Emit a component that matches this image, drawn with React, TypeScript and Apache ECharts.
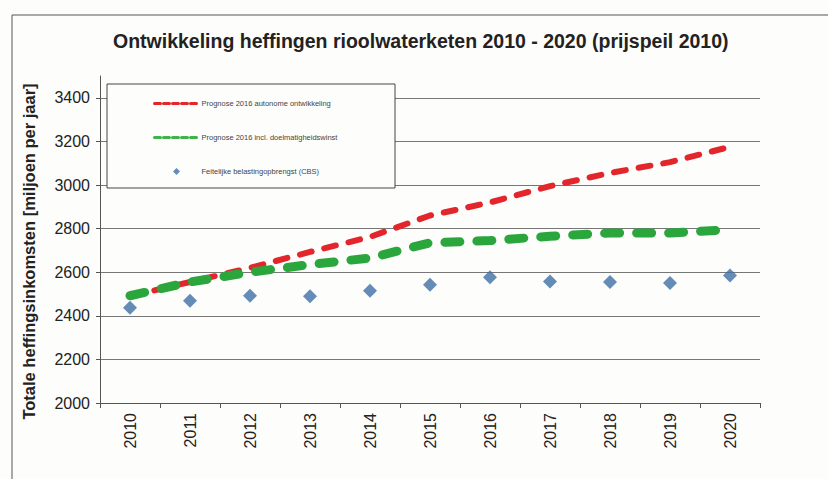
import React, { useEffect, useRef } from "react";
import * as echarts from "echarts";

const years = ["2010", "2011", "2012", "2013", "2014", "2015", "2016", "2017", "2018", "2019", "2020"];
const autonoom = [2490, 2555, 2620, 2693, 2762, 2860, 2920, 2995, 3055, 3105, 3175];
const doelmatig = [2492, 2555, 2600, 2635, 2665, 2735, 2745, 2765, 2780, 2780, 2795];
const feitelijk = [2437, 2469, 2492, 2490, 2515, 2543, 2577, 2557, 2555, 2551, 2585];

const nameRed = "Prognose 2016 autonome ontwikkeling";
const nameGreen = "Prognose 2016 incl. doelmatigheidswinst";
const nameBlue = "Feitelijke belastingopbrengst (CBS)";

const FONT = "'Liberation Sans', Arial, sans-serif";
const DIAMOND = "path://M5,0L10,5L5,10L0,5Z";

export default function App() {
  const ref = useRef<HTMLDivElement>(null);
  useEffect(() => {
    if (!ref.current) return;
    const chart = echarts.init(ref.current, undefined, { renderer: "svg" });
    chart.setOption({
      animation: false,
      backgroundColor: "#fdfdfb",
      textStyle: { fontFamily: FONT },
      title: {
        text: "Ontwikkeling heffingen rioolwaterketen 2010 - 2020 (prijspeil 2010)",
        left: 113,
        top: 31,
        padding: 0,
        textStyle: { fontFamily: FONT, fontSize: 19.5, fontWeight: "bold", color: "#222" },
      },
      graphic: [
        {
          type: "rect",
          shape: { x: 12, y: 15, width: 840, height: 490 },
          style: { fill: "none", stroke: "#555", lineWidth: 1 },
          silent: true,
          z: -1,
        },
        {
          type: "rect",
          shape: { x: 107, y: 84, width: 288, height: 104 },
          style: { fill: "#fdfdfb", stroke: "#444", lineWidth: 1 },
          silent: true,
          z: 10,
        },
      ],
      legend: {
        orient: "vertical",
        left: 153,
        top: 99.5,
        padding: 0,
        itemWidth: 44,
        itemHeight: 7,
        itemGap: 26,
        symbolKeepAspect: true,
        z: 20,
        textStyle: { fontFamily: FONT, fontSize: 7.5, color: "#444", padding: [0, 0, 0, -2] },
        data: [
          { name: nameRed, itemStyle: { opacity: 0 }, lineStyle: { width: 3, type: [6, 3], color: "#e3262b" } },
          { name: nameGreen, itemStyle: { opacity: 0 }, lineStyle: { width: 3, type: [6, 3], color: "#3fb34a" } },
          { name: nameBlue, icon: DIAMOND, itemStyle: { color: "#3f6ea6" } },
        ],
      },
      grid: { left: 100, right: 68, top: 76, bottom: 76, containLabel: false },
      xAxis: {
        type: "category",
        data: years,
        boundaryGap: true,
        axisLine: { lineStyle: { color: "#555", width: 1 } },
        axisTick: { show: true, length: 5, alignWithLabel: false, lineStyle: { color: "#555" } },
        axisLabel: { rotate: 90, margin: 10, fontSize: 16, color: "#222", fontFamily: FONT },
        splitLine: { show: false },
      },
      yAxis: {
        type: "value",
        min: 2000,
        max: 3500,
        interval: 200,
        name: "Totale heffingsinkomsten [miljoen per jaar]",
        nameLocation: "middle",
        nameRotate: 90,
        nameGap: 63,
        nameTextStyle: { fontFamily: FONT, fontSize: 16.5, fontWeight: "bold", color: "#222", padding: [0, 24, 0, 0] },
        axisLine: { show: true, lineStyle: { color: "#555", width: 1 } },
        axisTick: { show: true, length: 4, inside: false, lineStyle: { color: "#555" } },
        axisLabel: {
          fontSize: 16,
          color: "#222",
          margin: 10,
          showMaxLabel: false,
          fontFamily: FONT,
          formatter: (v: number) => String(v),
        },
        splitLine: { show: true, showMaxLine: false, lineStyle: { color: "#777", width: 1 } },
      },
      series: [
        {
          name: nameRed,
          type: "line",
          data: autonoom,
          symbol: "none",
          lineStyle: { color: "#e3262b", width: 6, type: [12, 13], cap: "round" },
          itemStyle: { color: "#e3262b" },
          z: 3,
        },
        {
          name: nameGreen,
          type: "line",
          data: doelmatig,
          symbol: "none",
          lineStyle: { color: "#2aa63c", width: 9, type: [15, 17], cap: "round" },
          itemStyle: { color: "#2aa63c" },
          z: 4,
        },
        {
          name: nameBlue,
          type: "scatter",
          data: feitelijk,
          symbol: "diamond",
          symbolSize: 14,
          itemStyle: { color: "#3f6ea6" },
          z: 5,
        },
      ],
    });
    return () => chart.dispose();
  }, []);
  return (
    <div
      ref={ref}
      style={{ position: "fixed", left: 0, top: 0, width: 828, height: 479 }}
    />
  );
}
